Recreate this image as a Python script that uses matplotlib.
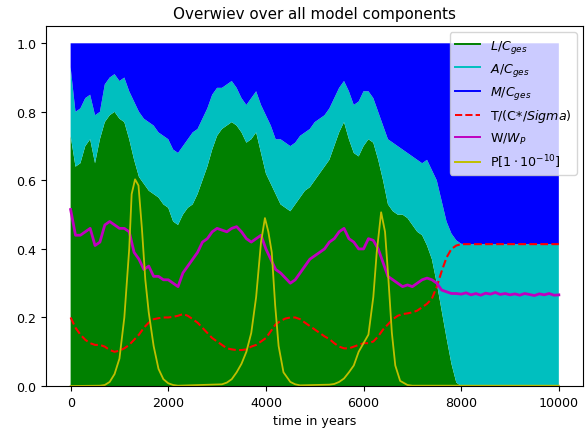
import numpy as np
import matplotlib
matplotlib.use("Agg")
import matplotlib.pyplot as plt

plt.rcParams['font.size'] = 9.1

# time axis of the stack / W / T (every 100 years)
t = np.arange(0, 10001, 100)

# top of green (L/Cges)
L = [0.73, 0.64, 0.65, 0.70, 0.72, 0.65, 0.72, 0.77, 0.79, 0.80,
     0.78, 0.77, 0.72, 0.66, 0.61, 0.59, 0.57, 0.56, 0.55, 0.53,
     0.52, 0.48, 0.47, 0.50, 0.52, 0.53, 0.56, 0.60, 0.64, 0.69,
     0.73, 0.75, 0.76, 0.77, 0.76, 0.74, 0.71, 0.72, 0.74, 0.68,
     0.62, 0.59, 0.56, 0.53, 0.52, 0.51, 0.53, 0.55, 0.57, 0.58,
     0.60, 0.62, 0.64, 0.66, 0.70, 0.74, 0.77, 0.72, 0.68, 0.67,
     0.70, 0.72, 0.71, 0.66, 0.60, 0.53, 0.51, 0.50, 0.50, 0.49,
     0.47, 0.45, 0.44, 0.41, 0.37, 0.30, 0.22, 0.14, 0.065, 0.01] + [0.0] * 21

# top of cyan (L+A)/Cges
LA = [0.93, 0.80, 0.81, 0.84, 0.85, 0.79, 0.80, 0.88, 0.90, 0.91,
      0.89, 0.90, 0.86, 0.83, 0.80, 0.78, 0.77, 0.76, 0.74, 0.73,
      0.72, 0.69, 0.68, 0.70, 0.72, 0.74, 0.75, 0.78, 0.81, 0.85,
      0.87, 0.87, 0.88, 0.89, 0.87, 0.84, 0.82, 0.84, 0.86, 0.82,
      0.79, 0.76, 0.72, 0.72, 0.71, 0.70, 0.71, 0.73, 0.74, 0.75,
      0.77, 0.78, 0.79, 0.81, 0.84, 0.87, 0.89, 0.86, 0.82, 0.83,
      0.86, 0.86, 0.84, 0.80, 0.76, 0.72, 0.71, 0.70, 0.69, 0.68,
      0.67, 0.66, 0.65, 0.66, 0.63, 0.60, 0.54, 0.48, 0.445, 0.425,
      0.415] + [0.414] * 20

W = [0.515, 0.44, 0.44, 0.45, 0.46, 0.41, 0.42, 0.47, 0.48, 0.47,
     0.46, 0.46, 0.45, 0.39, 0.37, 0.34, 0.35, 0.32, 0.32, 0.31,
     0.31, 0.30, 0.29, 0.33, 0.35, 0.37, 0.39, 0.42, 0.43, 0.45,
     0.46, 0.455, 0.45, 0.46, 0.465, 0.45, 0.43, 0.42, 0.43, 0.44,
     0.40, 0.37, 0.34, 0.33, 0.315, 0.30, 0.31, 0.33, 0.35, 0.37,
     0.38, 0.39, 0.40, 0.42, 0.43, 0.45, 0.46, 0.43, 0.42, 0.40,
     0.40, 0.43, 0.425, 0.40, 0.36, 0.32, 0.31, 0.30, 0.29, 0.295,
     0.29, 0.30, 0.31, 0.315, 0.31, 0.30, 0.28, 0.275, 0.27, 0.27,
     0.268, 0.272, 0.266, 0.27, 0.265, 0.271, 0.268, 0.273, 0.267, 0.27,
     0.266, 0.269, 0.265, 0.27, 0.267, 0.264, 0.269, 0.266, 0.27, 0.265,
     0.266]

T = [0.20, 0.17, 0.15, 0.135, 0.125, 0.12, 0.12, 0.115, 0.105, 0.10,
     0.103, 0.11, 0.12, 0.135, 0.15, 0.17, 0.185, 0.195, 0.198, 0.20,
     0.20, 0.202, 0.205, 0.21, 0.205, 0.195, 0.185, 0.17, 0.155, 0.14,
     0.13, 0.12, 0.11, 0.107, 0.105, 0.105, 0.107, 0.115, 0.12, 0.13,
     0.14, 0.16, 0.18, 0.19, 0.197, 0.20, 0.20, 0.195, 0.185, 0.175,
     0.165, 0.155, 0.145, 0.137, 0.125, 0.115, 0.11, 0.11, 0.115, 0.12,
     0.125, 0.125, 0.13, 0.145, 0.165, 0.18, 0.195, 0.205, 0.21, 0.212,
     0.215, 0.22, 0.23, 0.24, 0.255, 0.29, 0.335, 0.375, 0.40, 0.41,
     0.414] + [0.414] * 20

# P on its own time points (finer around the peaks)
t_p = [0, 600, 700, 800, 900, 1000, 1100, 1200, 1250, 1320, 1390, 1460,
       1530, 1600, 1700, 1800, 1900, 2000, 2100, 2200, 3100, 3200, 3300,
       3400, 3500, 3600, 3700, 3800, 3900, 3980, 4050, 4120, 4190, 4260,
       4360, 4500, 4600, 4700, 5300, 5400, 5500, 5600, 5700, 5800, 5900,
       6000, 6100, 6200, 6270, 6360, 6440, 6510, 6580, 6650, 6750, 6900,
       7000, 10000]
P = [0.0, 0.001, 0.003, 0.012, 0.035, 0.08, 0.20, 0.40, 0.56, 0.603, 0.585, 0.46,
     0.31, 0.215, 0.117, 0.05, 0.02, 0.008, 0.003, 0.001, 0.005, 0.01, 0.02,
     0.04, 0.065, 0.10, 0.155, 0.26, 0.42, 0.49, 0.45, 0.39, 0.235, 0.117,
     0.04, 0.012, 0.005, 0.002, 0.004, 0.006, 0.012, 0.022, 0.04, 0.06, 0.10,
     0.125, 0.15, 0.26, 0.39, 0.507, 0.45, 0.31, 0.155, 0.06, 0.015, 0.003,
     0.001, 0.001]

L = np.array(L)
A = np.array(LA) - L
M = 1 - np.array(LA)

fig = plt.figure(figsize=(5.85, 4.31), dpi=100)
ax = fig.add_subplot(111)
fig.subplots_adjust(left=0.079, right=0.997, bottom=0.102, top=0.937)

ax.stackplot(t, L, A, M, colors=['g', 'c', 'b'])
ax.plot([], [], color='g', label=r'$L/C_{ges}$')
ax.plot([], [], color='c', label=r'$A/C_{ges}$')
ax.plot([], [], color='b', label=r'$M/C_{ges}$')
ax.plot(t, T, 'r--', label=r'T/(C*/$Sigma$)')
ax.plot(t, W, 'm', lw=2, label=r'W/$W_P$')
ax.plot(t_p, P, 'y', lw=1.3, label=r'P[$1 \cdot 10^{-10}$]')

ax.set_title('Overwiev over all model components')
ax.set_xlabel('time in years')
leg = ax.legend(loc='upper right')
for line in leg.get_lines():
    line.set_linewidth(1.4)

plt.savefig('out.png')
